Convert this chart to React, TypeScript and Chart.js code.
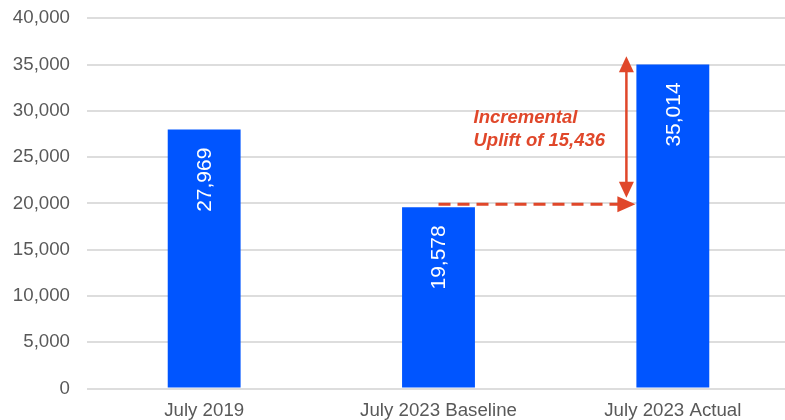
import React, { useEffect, useRef } from "react";
import { Chart, registerables } from "chart.js";

Chart.register(...registerables);

const categories = ["July 2019", "July 2023 Baseline", "July 2023 Actual"];
const visitors = [27969, 19578, 35014];
const yTicks = [0, 5000, 10000, 15000, 20000, 25000, 30000, 35000, 40000];
const annotationLines = ["Incremental", "Uplift of 15,436"];
const baselineLevel = 19900;
const upliftTop = 35900;
const upliftBottom = 20600;
const annotationTextLevel = 28700;

const RED = "#E0472A";
const BLUE = "#0055FF";
const FONT = "'Liberation Sans', Arial, sans-serif";

const fmt = (v: number) => v.toLocaleString("en-US");

function arrowHead(ctx: CanvasRenderingContext2D, tx: number, ty: number, dir: "up" | "down" | "right", len: number, half: number) {
  ctx.beginPath();
  if (dir === "up") {
    ctx.moveTo(tx, ty);
    ctx.lineTo(tx - half, ty + len);
    ctx.lineTo(tx + half, ty + len);
  } else if (dir === "down") {
    ctx.moveTo(tx, ty);
    ctx.lineTo(tx - half, ty - len);
    ctx.lineTo(tx + half, ty - len);
  } else {
    ctx.moveTo(tx, ty);
    ctx.lineTo(tx - len, ty - half);
    ctx.lineTo(tx - len, ty + half);
  }
  ctx.closePath();
  ctx.fill();
}

const overlayPlugin = {
  id: "overlay",
  afterDatasetsDraw(chart: any) {
    const ctx: CanvasRenderingContext2D = chart.ctx;
    const meta = chart.getDatasetMeta(0);
    const y = chart.scales.y;
    ctx.save();
    // value labels
    ctx.fillStyle = "#FFFFFF";
    ctx.font = `21px ${FONT}`;
    ctx.textAlign = "right";
    ctx.textBaseline = "middle";
    meta.data.forEach((bar: any, i: number) => {
      ctx.save();
      ctx.translate(bar.x + 1, bar.y + 18);
      ctx.rotate(-Math.PI / 2);
      ctx.fillText(fmt(visitors[i]), 0, 0);
      ctx.restore();
    });

    const b2 = meta.data[1];
    const b3 = meta.data[2];
    const b3Left = b3.x - b3.width / 2;
    const yBase = y.getPixelForValue(baselineLevel);
    // dashed horizontal arrow
    ctx.strokeStyle = RED;
    ctx.fillStyle = RED;
    ctx.lineWidth = 3;
    ctx.setLineDash([12, 7]);
    ctx.beginPath();
    ctx.moveTo(b2.x, yBase);
    ctx.lineTo(b3Left - 16, yBase);
    ctx.stroke();
    ctx.setLineDash([]);
    arrowHead(ctx, b3Left - 1, yBase, "right", 18, 8);

    // vertical double arrow
    const vx = b3Left - 10;
    const yTop = y.getPixelForValue(upliftTop);
    const yBot = y.getPixelForValue(upliftBottom);
    ctx.lineWidth = 2.5;
    ctx.beginPath();
    ctx.moveTo(vx, yTop + 10);
    ctx.lineTo(vx, yBot - 10);
    ctx.stroke();
    arrowHead(ctx, vx, yTop, "up", 16, 7.5);
    arrowHead(ctx, vx, yBot, "down", 16, 7.5);

    // annotation text
    ctx.font = `italic bold 18.5px ${FONT}`;
    ctx.textAlign = "left";
    ctx.textBaseline = "alphabetic";
    const ty = y.getPixelForValue(annotationTextLevel);
    annotationLines.forEach((line, i) => {
      ctx.fillText(line, b2.x + 35, ty + i * 23);
    });
    ctx.restore();
  },
};

export default function App() {
  const ref = useRef<HTMLCanvasElement | null>(null);
  useEffect(() => {
    if (!ref.current) return;
    const chart = new Chart(ref.current, {
      type: "bar",
      data: {
        labels: categories,
        datasets: [
          {
            data: visitors,
            backgroundColor: BLUE,
            borderWidth: 0,
            barPercentage: 0.311,
            categoryPercentage: 1,
          },
        ],
      },
      options: {
        animation: false,
        responsive: false,
        maintainAspectRatio: false,
        layout: { padding: { top: -2, left: 0, right: 0, bottom: -2 } },
        plugins: {
          legend: { display: false },
          tooltip: { enabled: false },
        },
        scales: {
          x: {
            grid: { display: false, drawTicks: false },
            border: { display: false },
            ticks: {
              color: "#595959",
              font: { family: FONT, size: 18.7 },
              padding: 11,
              maxRotation: 0,
            },
          },
          y: {
            min: 0,
            max: 40000,
            afterBuildTicks: (axis: any) => {
              axis.ticks = yTicks.map((v) => ({ value: v }));
            },
            afterFit: (axis: any) => {
              axis.width = 87;
            },
            grid: { color: "#DDDDDD", lineWidth: 2, drawTicks: false },
            border: { display: false },
            ticks: {
              color: "#595959",
              font: { family: FONT, size: 18.7 },
              padding: 17,
              callback: (v: any) => fmt(Number(v)),
            },
          },
        },
      },
      plugins: [overlayPlugin],
    });
    return () => chart.destroy();
  }, []);
  return (
    <div style={{ position: "absolute", left: 0, top: 0, width: 785, height: 420, overflow: "hidden", background: "#fff" }}>
      <canvas
        ref={ref}
        width={790}
        height={441}
        style={{ position: "absolute", left: 0, top: -10, width: 790, height: 441, display: "block" }}
      />
    </div>
  );
}
